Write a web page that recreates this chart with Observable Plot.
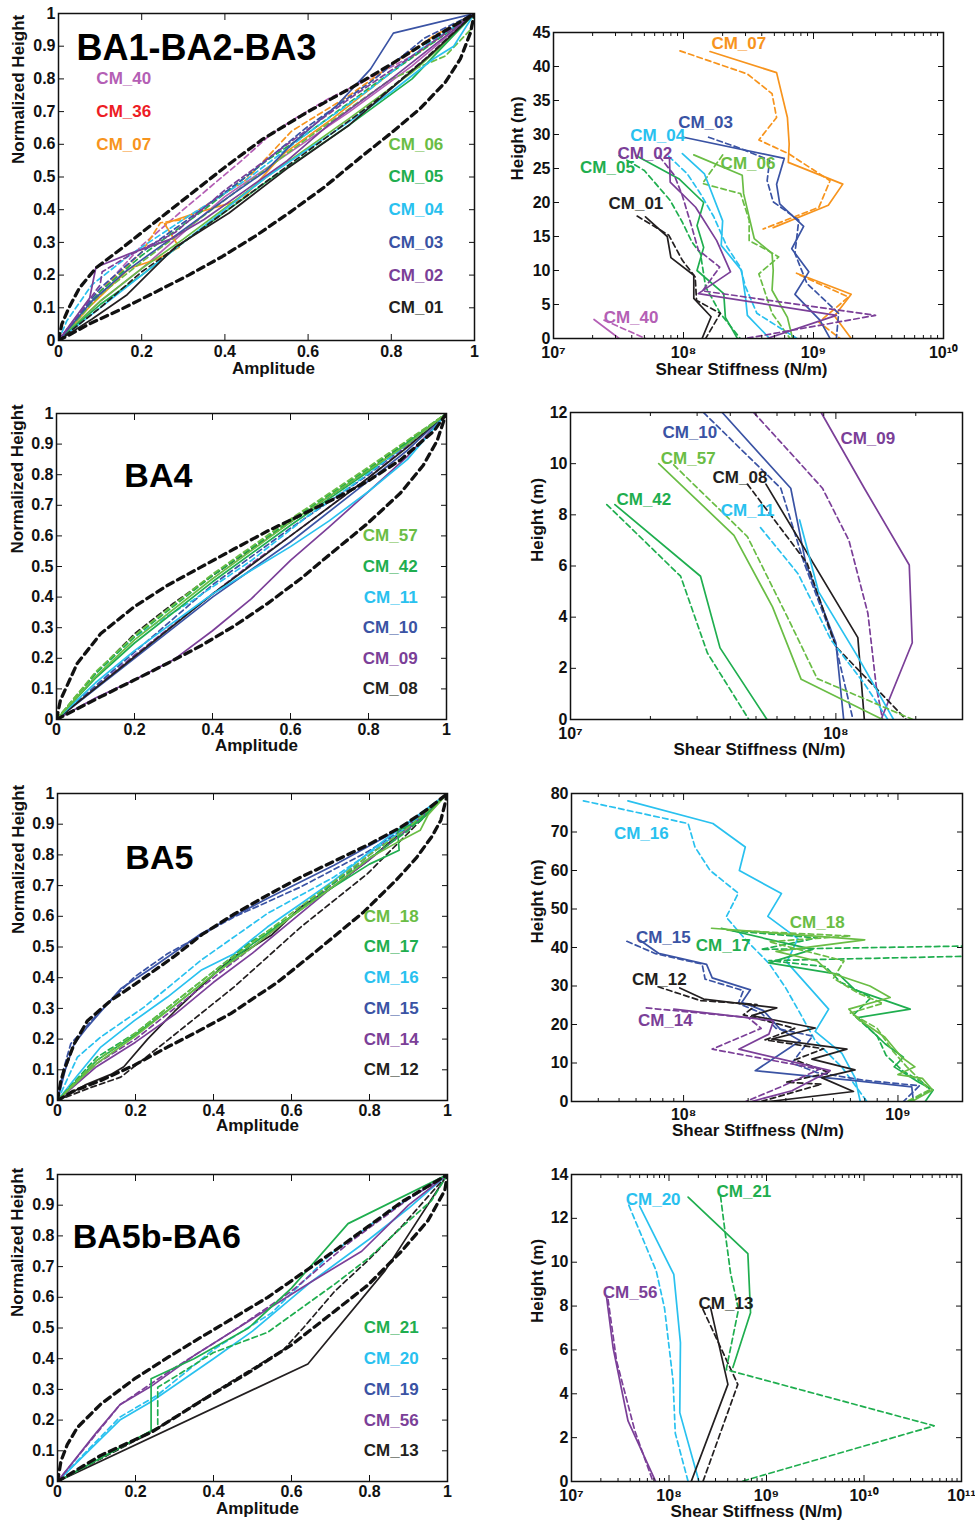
<!DOCTYPE html>
<html><head><meta charset="utf-8">
<script src="https://cdn.jsdelivr.net/npm/d3@7"></script>
<script src="https://cdn.jsdelivr.net/npm/@observablehq/plot@0.6"></script>
<style>
body{margin:0;background:#fff;}
#fig{position:relative;width:975px;height:1520px;background:#fff;}
#fig svg{position:absolute;}
</style></head><body><div id="fig"></div>
<script>
// ---------- colours ----------
const C = {purple:"#7b3f98", pink:"#b45fb5", red:"#ed1c24", orange:"#f7941d", lgreen:"#6abd45",
           green:"#1fae4f", cyan:"#29c1ef", blue:"#3a53a4", black:"#231f20"};

// ---------- tick values ----------
const ampTicks = [0,0.2,0.4,0.6,0.8,1];
const normTicks = [0,0.1,0.2,0.3,0.4,0.5,0.6,0.7,0.8,0.9,1];
const p1bHeightTicks = [0,5,10,15,20,25,30,35,40,45];
const p2bHeightTicks = [0,2,4,6,8,10,12];
const p3bHeightTicks = [0,10,20,30,40,50,60,70,80];
const p4bHeightTicks = [0,2,4,6,8,10,12,14];
const p1bDecades = [1e7,1e8,1e9,1e10];
const p2bDecades = [1e7,1e8];
const p3bDecades = [1e8,1e9];
const p4bDecades = [1e7,1e8,1e9,1e10,1e11];

// ================= PANEL 1 (BA1-BA2-BA3) =================
// [amplitude, normalized height]
const p1a_envUpper = [[0,0],[0.008,0.05],[0.025,0.1],[0.05,0.16],[0.09,0.222],[0.15,0.28],[0.2,0.33],[0.3,0.43],[0.4,0.53],[0.49,0.615],[0.6,0.7],[0.7,0.77],[0.8,0.845],[0.9,0.925],[1,1]];
const p1a_envLower = [[0,0],[0.03,0.02],[0.073,0.05],[0.153,0.097],[0.233,0.148],[0.313,0.2],[0.394,0.257],[0.474,0.32],[0.554,0.39],[0.64,0.47],[0.726,0.56],[0.8,0.635],[0.87,0.71],[0.93,0.79],[0.966,0.861],[0.99,0.94],[1,1]];
const p1a_CM01 = [[0,0],[0.08,0.065],[0.165,0.14],[0.22,0.21],[0.28,0.285],[0.41,0.39],[0.554,0.53],[0.7,0.66],[0.8,0.77],[0.9,0.88],[1,1]];
const p1a_CM01d = [[0,0],[0.1,0.1],[0.2,0.21],[0.3,0.3],[0.45,0.44],[0.6,0.58],[0.75,0.72],[0.88,0.86],[1,1]];
const p1a_CM02 = [[0,0],[0.075,0.13],[0.09,0.224],[0.17,0.265],[0.27,0.31],[0.35,0.37],[0.45,0.46],[0.55,0.55],[0.65,0.66],[0.8,0.8],[0.9,0.9],[1,1]];
const p1a_CM02d = [[0,0],[0.06,0.1],[0.1,0.17],[0.105,0.21],[0.17,0.26],[0.28,0.33],[0.4,0.46],[0.55,0.6],[0.7,0.74],[0.85,0.87],[1,1]];
const p1a_CM03 = [[0,0],[0.08,0.12],[0.16,0.21],[0.28,0.32],[0.41,0.44],[0.5,0.52],[0.56,0.6],[0.67,0.72],[0.75,0.83],[0.805,0.94],[1,1]];
const p1a_CM03d = [[0,0],[0.1,0.16],[0.2,0.27],[0.3,0.36],[0.45,0.5],[0.6,0.655],[0.75,0.79],[0.88,0.925],[1,1]];
const p1a_CM04 = [[0,0],[0.1,0.1],[0.2,0.2],[0.3,0.3],[0.5,0.5],[0.7,0.67],[0.8,0.76],[0.9,0.86],[0.95,0.9],[1,1]];
const p1a_CM04d = [[0,0],[0.02,0.06],[0.08,0.17],[0.17,0.26],[0.3,0.37],[0.45,0.49],[0.6,0.635],[0.75,0.77],[0.88,0.9],[1,1]];
const p1a_CM05 = [[0,0],[0.1,0.11],[0.2,0.2],[0.3,0.3],[0.5,0.485],[0.7,0.66],[0.85,0.8],[0.94,0.92],[1,1]];
const p1a_CM05d = [[0,0],[0.1,0.15],[0.2,0.26],[0.35,0.4],[0.5,0.55],[0.6,0.635],[0.75,0.775],[0.9,0.91],[1,1]];
const p1a_CM06 = [[0,0],[0.1,0.12],[0.2,0.22],[0.3,0.31],[0.5,0.5],[0.7,0.68],[0.85,0.82],[0.93,0.91],[1,1]];
const p1a_CM06d = [[0,0],[0.1,0.14],[0.2,0.24],[0.4,0.43],[0.6,0.62],[0.8,0.8],[0.93,0.87],[0.99,0.95],[1,1]];
const p1a_CM07 = [[0,0],[0.08,0.11],[0.17,0.22],[0.24,0.25],[0.29,0.285],[0.255,0.357],[0.33,0.39],[0.44,0.43],[0.54,0.57],[0.66,0.68],[0.82,0.84],[0.92,0.93],[1,1]];
const p1a_CM07d = [[0,0],[0.1,0.15],[0.2,0.27],[0.245,0.36],[0.3,0.37],[0.45,0.49],[0.56,0.64],[0.7,0.75],[0.82,0.86],[0.9,0.93],[1,1]];
const p1a_CM40 = [[0,0],[0.1,0.12],[0.2,0.22],[0.4,0.44],[0.55,0.57],[0.7,0.7],[0.85,0.84],[1,1]];
const p1a_CM40d = [[0,0],[0.1,0.15],[0.2,0.29],[0.3,0.4],[0.44,0.55],[0.51,0.63],[0.57,0.68],[0.65,0.74],[0.73,0.79],[0.85,0.87],[1,1]];

// [shear stiffness N/m, height m]
const p1b_CM07 = [[1.6e8,42.2],[5.2e8,39.1],[6.3e8,32.5],[6.5e8,28.6],[6.4e8,25.9],[1.68e9,22.7],[1.3e9,19.6],[4.9e8,16.3],[NaN,NaN],[7.4e8,9.6],[1.95e9,6.5],[1.45e9,3.3],[1.95e9,0]];
const p1b_CM07d = [[9.4e7,42.3],[3.1e8,38.9],[4.8e8,36],[5.2e8,32.5],[3.8e8,29.2],[6.4e8,27.2],[1.34e9,23.2],[1.1e9,19.3],[4.1e8,16.1],[NaN,NaN],[7.9e8,9.3],[1.86e9,6.1],[1.1e9,2.4],[1.6e9,0]];
const p1b_CM03 = [[1.0e8,29.6],[5.96e8,26.5],[5.2e8,22.7],[5.5e8,19.8],[8.4e8,16.5],[6.8e8,13.2],[9.2e8,9.8],[7.2e8,6.5],[1.12e9,2.7],[1.34e9,0]];
const p1b_CM03d = [[1.56e8,29.6],[2.7e8,28],[4.6e8,26.2],[4.4e8,23.2],[4.9e8,20.1],[7.7e8,17.4],[7.2e8,12.5],[8.9e8,8.1],[1.56e9,3.7],[1.5e9,0]];
const p1b_CM04 = [[9.8e7,27.2],[1.45e8,24.2],[2.0e8,17.3],[1.95e8,13.7],[2.8e8,10],[3.0e8,6],[3.1e8,3.4],[4.6e8,0]];
const p1b_CM04d = [[7.7e7,26.8],[1.07e8,24.2],[1.35e8,21.3],[1.71e8,17.9],[2.16e8,13.5],[2.73e8,10.5],[3.0e8,7.6],[3.67e8,3.7],[7.45e8,0]];
const p1b_CM05 = [[4.3e7,26.9],[9.2e7,23.5],[1.43e8,20],[1.27e8,16.6],[1.43e8,13.4],[1.27e8,10],[2.04e8,6.6],[2.1e8,3.1],[2.6e8,0]];
const p1b_CM05d = [[3.2e7,26.9],[5.0e7,24.7],[7.9e7,20.3],[9.8e7,17.1],[1.16e8,14.2],[1.35e8,12.5],[1.48e8,7.6],[1.92e8,3.7],[2.73e8,0]];
const p1b_CM06 = [[1.2e8,27],[2.83e8,24],[2.9e8,21.3],[3.5e8,14.7],[4.8e8,12.5],[4.9e8,10],[4.8e8,7.1],[6.3e8,3.1],[6.9e8,0]];
const p1b_CM06d = [[2.0e8,27],[1.4e8,22.8],[2.75e8,21.3],[3.2e8,17.4],[3.2e8,14.4],[4.4e8,13],[5.4e8,12],[3.8e8,9.5],[4.8e8,3.7],[6.6e8,0]];
const p1b_CM02 = [[7.8e7,26.5],[7.9e7,23],[1.24e8,19.3],[1.8e8,14.4],[2.3e8,9.8],[1.3e8,6.6],[1.5e9,3.4],[4.4e8,0]];
const p1b_CM02d = [[6.5e7,26.8],[8.5e7,24],[9.8e7,21],[1.15e8,16.6],[1.3e8,13],[1.9e8,10.5],[1.4e8,7],[3.0e9,3.4],[3.0e8,0]];
const p1b_CM01 = [[5.1e7,17.9],[7.5e7,15],[8.0e7,11.9],[1.2e8,9.3],[1.2e8,5.9],[1.63e8,3.2],[1.39e8,0]];
const p1b_CM01d = [[4.4e7,18],[7.7e7,15.2],[9.8e7,11.5],[1.23e8,9.05],[1.26e8,5.6],[1.92e8,3.7],[1.48e8,0]];
const p1b_CM40 = [[2.05e7,2.8],[3.2e7,0]];
const p1b_CM40d = [[2.45e7,2.7],[5.1e7,0]];

// ================= PANEL 2 (BA4) =================
const p2a_envUpper = [[0,0],[0.01,0.063],[0.053,0.183],[0.113,0.28],[0.198,0.367],[0.284,0.438],[0.369,0.497],[0.455,0.557],[0.54,0.615],[0.626,0.668],[0.711,0.72],[0.797,0.778],[0.882,0.848],[0.968,0.943],[1,1]];
const p2a_envLower = [[0,0],[0.113,0.074],[0.198,0.128],[0.284,0.183],[0.369,0.24],[0.455,0.305],[0.54,0.378],[0.626,0.46],[0.711,0.55],[0.797,0.64],[0.882,0.74],[0.94,0.83],[0.976,0.911],[0.993,0.976],[1,1]];
const p2a_CM08 = [[0,0],[0.2,0.205],[0.4,0.41],[0.6,0.6],[0.8,0.79],[0.9,0.89],[1,1]];
const p2a_CM08d = [[0,0],[0.1,0.15],[0.2,0.28],[0.3,0.38],[0.4,0.47],[0.6,0.645],[0.8,0.815],[1,1]];
const p2a_CM09 = [[0,0],[0.1,0.07],[0.2,0.13],[0.3,0.195],[0.4,0.29],[0.5,0.395],[0.6,0.52],[0.7,0.63],[0.8,0.745],[0.9,0.86],[1,1]];
const p2a_CM09d = [[0,0],[0.2,0.21],[0.4,0.41],[0.5,0.51],[0.6,0.6],[0.8,0.79],[1,1]];
const p2a_CM10 = [[0,0],[0.2,0.2],[0.4,0.4],[0.6,0.58],[0.8,0.78],[0.9,0.88],[1,1]];
const p2a_CM10d = [[0,0],[0.2,0.22],[0.4,0.44],[0.6,0.625],[0.8,0.8],[1,1]];
const p2a_CM11 = [[0,0],[0.1,0.12],[0.2,0.225],[0.4,0.41],[0.6,0.565],[0.7,0.65],[0.8,0.745],[0.9,0.85],[1,1]];
const p2a_CM11d = [[0,0],[0.1,0.15],[0.2,0.27],[0.35,0.39],[0.5,0.52],[0.65,0.67],[0.78,0.785],[0.9,0.9],[1,1]];
const p2a_CM42 = [[0,0],[0.1,0.135],[0.2,0.25],[0.4,0.45],[0.6,0.635],[0.8,0.81],[1,1]];
const p2a_CM42d = [[0,0],[0.1,0.15],[0.2,0.27],[0.4,0.47],[0.6,0.65],[0.8,0.82],[1,1]];
const p2a_CM57 = [[0,0],[0.1,0.14],[0.2,0.26],[0.4,0.46],[0.6,0.645],[0.8,0.815],[0.9,0.9],[1,1]];
const p2a_CM57d = [[0,0],[0.1,0.155],[0.2,0.275],[0.4,0.475],[0.6,0.655],[0.8,0.825],[1,1]];

const p2b_CM09 = [[8.8e7,12],[1.28e8,9.04],[1.89e8,6.04],[1.94e8,3.0],[1.48e8,0]];
const p2b_CM09d = [[4.9e7,12],[7.2e7,10.1],[8.9e7,9.04],[1.12e8,7.0],[1.32e8,4.15],[1.42e8,1.28],[1.5e8,0]];
const p2b_CM10 = [[3.73e7,12],[6.76e7,9.04],[7.7e7,6.1],[1.0e8,3.0],[1.07e8,0]];
const p2b_CM10d = [[3.17e7,12],[6.2e7,9.04],[7.6e7,6.1],[1.0e8,2.85],[1.16e8,0]];
const p2b_CM08 = [[5.45e7,9.2],[1.21e8,3.2],[1.28e8,0]];
const p2b_CM08d = [[4.64e7,9.2],[7.8e7,6.1],[1.0e8,2.85],[1.84e8,0]];
const p2b_CM11 = [[7.3e7,7.8],[8.6e7,5],[1.21e8,2.45],[1.65e8,0]];
const p2b_CM11d = [[5.2e7,7.5],[7.2e7,5.7],[9.6e7,3.1],[1.28e8,1.4],[1.57e8,0]];
const p2b_CM57 = [[2.15e7,10],[4.13e7,7.2],[5.77e7,4.4],[7.4e7,1.57],[1.5e8,0]];
const p2b_CM57d = [[2.45e7,9.95],[4.64e7,7.15],[6.57e7,4.0],[8.5e7,1.6],[1.95e8,0]];
const p2b_CM42 = [[1.47e7,8.4],[3.09e7,5.6],[3.66e7,2.8],[5.5e7,0]];
const p2b_CM42d = [[1.37e7,8.4],[2.6e7,5.6],[3.28e7,2.6],[4.7e7,0]];

// ================= PANEL 3 (BA5) =================
const p3a_envUpper = [[0,0],[0.008,0.06],[0.017,0.1],[0.043,0.185],[0.077,0.26],[0.137,0.326],[0.2,0.38],[0.3,0.47],[0.37,0.54],[0.45,0.605],[0.54,0.67],[0.62,0.725],[0.71,0.78],[0.8,0.835],[0.88,0.89],[0.95,0.95],[1,1]];
const p3a_envLower = [[0,0],[0.04,0.03],[0.111,0.065],[0.197,0.115],[0.282,0.174],[0.36,0.225],[0.444,0.283],[0.564,0.385],[0.667,0.49],[0.786,0.615],[0.87,0.72],[0.92,0.79],[0.96,0.86],[0.983,0.913],[1,1]];
const p3a_CM12 = [[0,0],[0.07,0.05],[0.137,0.085],[0.17,0.11],[0.231,0.2],[0.3,0.29],[0.4,0.41],[0.453,0.47],[0.5,0.5],[0.55,0.54],[0.624,0.63],[0.7,0.69],[0.795,0.78],[0.906,0.9],[1,1]];
const p3a_CM12d = [[0,0],[0.08,0.04],[0.162,0.076],[0.282,0.196],[0.453,0.37],[0.624,0.565],[0.795,0.739],[0.906,0.88],[1,1]];
const p3a_CM14 = [[0,0],[0.1,0.11],[0.2,0.19],[0.3,0.28],[0.4,0.385],[0.5,0.48],[0.6,0.585],[0.7,0.69],[0.8,0.785],[0.9,0.885],[1,1]];
const p3a_CM14d = [[0,0],[0.1,0.12],[0.2,0.2],[0.3,0.3],[0.4,0.4],[0.5,0.5],[0.6,0.6],[0.7,0.7],[0.8,0.8],[1,1]];
const p3a_CM15 = [[0,0],[0.02,0.1],[0.043,0.185],[0.077,0.24],[0.162,0.364],[0.239,0.429],[0.368,0.543],[0.538,0.658],[0.709,0.766],[0.88,0.886],[1,1]];
const p3a_CM15d = [[0,0],[0.015,0.1],[0.034,0.185],[0.111,0.293],[0.197,0.402],[0.282,0.478],[0.453,0.598],[0.624,0.696],[0.795,0.81],[0.923,0.913],[1,1]];
const p3a_CM16 = [[0,0],[0.05,0.08],[0.111,0.174],[0.197,0.26],[0.282,0.337],[0.368,0.424],[0.453,0.478],[0.538,0.565],[0.624,0.641],[0.709,0.717],[0.838,0.848],[1,1]];
const p3a_CM16d = [[0,0],[0.051,0.141],[0.111,0.207],[0.222,0.304],[0.368,0.457],[0.538,0.609],[0.709,0.728],[0.88,0.875],[1,1]];
const p3a_CM17 = [[0,0],[0.1,0.13],[0.2,0.215],[0.3,0.31],[0.4,0.41],[0.5,0.51],[0.6,0.6],[0.7,0.69],[0.8,0.77],[0.876,0.815],[0.872,0.88],[0.93,0.91],[1,1]];
const p3a_CM17d = [[0,0],[0.1,0.14],[0.2,0.22],[0.3,0.32],[0.4,0.42],[0.5,0.52],[0.6,0.6],[0.7,0.7],[0.8,0.79],[0.9,0.88],[1,1]];
const p3a_CM18 = [[0,0],[0.1,0.12],[0.2,0.21],[0.3,0.31],[0.4,0.41],[0.5,0.5],[0.6,0.6],[0.7,0.69],[0.8,0.79],[0.87,0.84],[0.93,0.88],[0.95,0.93],[1,1]];
const p3a_CM18d = [[0,0],[0.1,0.13],[0.2,0.22],[0.4,0.42],[0.6,0.61],[0.8,0.8],[0.9,0.89],[1,1]];

const p3b_CM16 = [[5.5e7,78.1],[1.37e8,72.2],[1.94e8,66.1],[1.82e8,60],[2.86e8,54],[2.47e8,48.1],[3.41e8,42.3],[3.03e8,36.2],[4.75e8,24],[4.11e8,18.2],[5.48e8,12.5],[6.3e8,6.2],[6.67e8,0]];
const p3b_CM16d = [[3.41e7,78.1],[1.05e8,72.2],[1.13e8,66.1],[1.33e8,60],[1.8e8,54.1],[1.58e8,47.9],[1.95e8,42],[2.5e8,35.9],[2.98e8,29.7],[3.44e8,23.6],[4.11e8,15.8],[5.48e8,8.9],[7.16e8,0]];
const p3b_CM15 = [[6.28e7,41.8],[7.64e7,38.5],[1.28e8,35.6],[1.36e8,32.1],[2.05e8,29],[1.87e8,25.8],[2.36e8,23.6],[2.82e8,18.8],[3.5e8,15.8],[2.16e8,8.0],[6.3e8,5.4],[1.16e9,3.8],[1.18e9,0]];
const p3b_CM15d = [[5.44e7,41.6],[7.4e7,38.4],[1.22e8,35.7],[1.26e8,31.8],[1.9e8,28.8],[1.8e8,25.5],[2.3e8,23],[2.7e8,19],[4.0e8,17],[3.2e8,10],[4.2e8,7.5],[7.0e8,5.5],[1.26e9,4.1],[1.06e9,0]];
const p3b_CM12 = [[9.6e7,29.5],[1.24e8,26.6],[2.72e8,24.3],[2.08e8,22.3],[4.11e8,19.1],[2.58e8,16.2],[5.78e8,13.6],[3.97e8,11],[6.3e8,8.2],[4.4e8,6.2],[6.2e8,2.6],[2.5e8,0]];
const p3b_CM12d = [[7.6e7,29.8],[1.2e8,26.2],[2.2e8,25.2],[1.9e8,22.5],[3.3e8,19],[2.4e8,16],[4.5e8,13.7],[3.3e8,10.8],[4.8e8,7.5],[3.0e8,5],[4.4e8,4.5],[2.3e8,0]];
const p3b_CM14 = [[9.0e7,24],[2.63e8,21],[2.5e8,17.5],[1.81e8,13.6],[4.83e8,8.0],[3.2e8,2.8],[2.08e8,0]];
const p3b_CM14d = [[6.7e7,24.3],[2.0e8,21.8],[2.3e8,19],[1.36e8,13.6],[4.3e8,8.4],[2.9e8,4],[1.95e8,0]];
const p3b_CM17 = [[1.5e8,45],[2.55e8,42],[4.0e8,39.5],[2.5e8,36],[5.3e8,33],[6.3e8,29],[1.14e9,24],[6.5e8,21.8],[8.7e8,15],[1.06e9,11.5],[9.6e8,9],[1.25e9,5],[1.46e9,3],[1.34e9,0]];
const p3b_CM17d = [[1.7e8,44.3],[4.2e8,42.5],[2.3e8,39.5],[3.5e9,40.6],[3.5e9,38.0],[2.5e8,36.6],[4.6e8,35],[5.4e8,31],[7.5e8,27],[6.2e8,22.5],[8.0e8,17],[8.8e8,12],[1.05e9,8],[1.3e9,5],[1.42e9,3],[1.12e9,0]];
const p3b_CM18 = [[1.35e8,45],[7.0e8,42],[2.7e8,39],[4.2e8,36.5],[4.8e8,33.5],[7.4e8,30],[9.2e8,27],[5.9e8,24],[6.5e8,21.5],[8.7e8,16.7],[1.04e9,11.5],[1.2e9,9],[1.0e9,7],[1.3e9,6],[1.45e9,3],[1.16e9,0]];
const p3b_CM18d = [[1.6e8,44.5],[6.0e8,43],[2.5e8,41.5],[5.6e8,36.5],[5.0e8,32],[6.6e8,28],[8.5e8,25.5],[6.0e8,23],[8.0e8,19],[9.5e8,13],[1.1e9,9],[1.3e9,5],[1.4e9,3],[1.1e9,0]];

// ================= PANEL 4 (BA5b-BA6) =================
const p4a_envUpper = [[0,0],[0.009,0.067],[0.025,0.12],[0.051,0.176],[0.111,0.252],[0.197,0.334],[0.283,0.404],[0.368,0.47],[0.454,0.535],[0.539,0.6],[0.625,0.676],[0.711,0.752],[0.796,0.83],[0.882,0.91],[1,1]];
const p4a_envLower = [[0,0],[0.111,0.085],[0.24,0.16],[0.368,0.262],[0.497,0.36],[0.6,0.445],[0.711,0.555],[0.796,0.64],[0.882,0.75],[0.95,0.85],[0.993,0.948],[1,1]];
const p4a_CM13 = [[0,0],[0.642,0.383],[0.84,0.687],[1,1]];
const p4a_CM13d = [[0,0],[0.24,0.16],[0.4,0.29],[0.58,0.43],[0.63,0.5],[0.711,0.62],[0.796,0.72],[0.882,0.83],[1,1]];
const p4a_CM20 = [[0,0],[0.16,0.2],[0.24,0.26],[0.4,0.4],[0.5,0.49],[0.65,0.65],[0.8,0.79],[0.9,0.89],[1,1]];
const p4a_CM20d = [[0,0],[0.16,0.21],[0.255,0.28],[0.4,0.43],[0.55,0.55],[0.7,0.74],[0.85,0.88],[1,1]];
const p4a_CM21 = [[0,0],[0.24,0.165],[0.24,0.335],[0.35,0.4],[0.49,0.5],[0.6,0.63],[0.745,0.84],[1,1]];
const p4a_CM21d = [[0,0],[0.257,0.176],[0.257,0.307],[0.3,0.34],[0.4,0.42],[0.539,0.486],[0.62,0.56],[0.711,0.643],[0.8,0.73],[0.882,0.828],[0.959,0.915],[1,1]];
const p4a_CM56 = [[0,0],[0.1,0.16],[0.16,0.25],[0.24,0.31],[0.35,0.41],[0.5,0.53],[0.65,0.65],[0.78,0.75],[0.9,0.9],[1,1]];
const p4a_CM56d = [[0,0],[0.16,0.25],[0.3,0.37],[0.45,0.49],[0.6,0.62],[0.75,0.78],[0.9,0.92],[1,1]];

const p4b_CM20 = [[5.0e7,12.56],[1.12e8,9.44],[1.31e8,6.33],[1.29e8,3.14],[2.03e8,0]];
const p4b_CM20d = [[3.87e7,12.6],[7.4e7,9.6],[9.0e7,7.9],[1.1e8,4.6],[1.16e8,2.2],[1.57e8,0]];
const p4b_CM21 = [[1.57e8,12.97],[6.44e8,10.39],[6.86e8,7.7],[4.52e8,5.2]];
const p4b_CM21d = [[3.38e8,13.0],[3.78e8,11.3],[4.28e8,9.5],[5.16e8,7.85],[3.86e8,5.1],[5.25e10,2.54],[5.5e8,0]];
const p4b_CM13 = [[2.67e8,7.93],[4.02e8,4.43],[1.69e8,0]];
const p4b_CM13d = [[2.23e8,7.85],[5.08e8,4.43],[2.23e8,0]];
const p4b_CM56 = [[2.28e7,8.46],[2.67e7,6.1],[3.8e7,2.76],[7.3e7,0]];
const p4b_CM56d = [[2.37e7,8.3],[2.9e7,5.5],[4.47e7,2.3],[6.85e7,0]];

// ---------- rendering helpers ----------
const FONT = '"Liberation Sans", Arial, Helvetica, sans-serif';
const ML = 56, MR = 12, MT = 12, MB = 46;
const fig = document.getElementById("fig");
const SUP = {"0":"⁰","1":"¹","2":"²","3":"³","4":"⁴","5":"⁵","6":"⁶","7":"⁷","8":"⁸","9":"⁹"};
const pow10 = d => "10" + String(Math.round(Math.log10(d))).split("").map(c => SUP[c]).join("");

function lineMark(data, color, kind) {
  const o = {x: d => d[0], y: d => d[1], stroke: color, strokeWidth: 1.7, strokeLinejoin: "round", clip: true};
  if (kind === "d") { o.strokeDasharray = "5.5,3.5"; }
  if (kind === "env") { o.strokeWidth = 3.3; o.strokeDasharray = "7,5"; o.stroke = "#111"; }
  return Plot.line(data, o);
}
function labelMark(t, x, y, color, anchor, size) {
  return Plot.text([t], {x: () => x, y: () => y, text: d => d, fill: color, textAnchor: anchor,
    fontSize: size, fontWeight: "bold", lineAnchor: "middle"});
}

function panel(cfg) {
  const isLog = cfg.xType === "log";
  const marks = [];
  cfg.series.forEach(s => marks.push(lineMark(s[0], s[1], s[2])));
  // axes: inward ticks on all four sides (box style)
  marks.push(Plot.axisX(cfg.xTicks, {anchor: "bottom", tickSize: -6, tickPadding: cfg.xPad,
    tickFormat: isLog ? pow10 : d => String(d), label: null, fontSize: 16, fontWeight: "bold"}));
  marks.push(Plot.axisX(cfg.xTicks, {anchor: "top", tickSize: -6, tickFormat: () => "", label: null}));
  if (isLog) {
    const minor = d3.scaleLog().domain(cfg.xDomain).ticks()
      .filter(v => Math.abs(Math.log10(v) - Math.round(Math.log10(v))) > 1e-6);
    marks.push(Plot.axisX(minor, {anchor: "bottom", tickSize: -3, tickFormat: () => "", label: null}));
    marks.push(Plot.axisX(minor, {anchor: "top", tickSize: -3, tickFormat: () => "", label: null}));
  }
  marks.push(Plot.axisY(cfg.yTicks, {anchor: "left", tickSize: -6, tickPadding: 9,
    tickFormat: d => String(d), label: null, fontSize: 16, fontWeight: "bold"}));
  marks.push(Plot.axisY(cfg.yTicks, {anchor: "right", tickSize: -6, tickFormat: () => "", label: null}));
  marks.push(Plot.frame({stroke: "#111", strokeWidth: 1.5}));
  // axis titles
  marks.push(Plot.text([cfg.xLabel], {frameAnchor: "bottom", text: d => d, dx: cfg.xl[0], dy: cfg.xl[1],
    lineAnchor: "middle", fontSize: 17, fontWeight: "bold", fill: "#111"}));
  marks.push(Plot.text([cfg.yLabel], {frameAnchor: "left", text: d => d, rotate: -90, dx: cfg.yl[0], dy: cfg.yl[1],
    lineAnchor: "middle", fontSize: 17, fontWeight: "bold", fill: "#111"}));
  // annotations
  if (cfg.title) marks.push(labelMark(cfg.title[0], cfg.title[1], cfg.title[2], "#000", "start", cfg.title[3]));
  cfg.labels.forEach(l => marks.push(labelMark(l[0], l[1], l[2], l[3], l[4], 17)));

  const svg = Plot.plot({
    width: cfg.w + ML + MR, height: cfg.h + MT + MB,
    marginLeft: ML, marginRight: MR, marginTop: MT, marginBottom: MB,
    x: {type: cfg.xType, domain: cfg.xDomain},
    y: {type: "linear", domain: cfg.yDomain},
    style: {fontFamily: FONT, fontWeight: "bold", fontSize: "16px", background: "none", overflow: "visible", color: "#111"},
    marks
  });
  svg.style.position = "absolute";
  svg.style.left = (cfg.left - ML) + "px";
  svg.style.top = (cfg.top - MT) + "px";
  fig.appendChild(svg);
}

const leftCol = (names, colors, x0, h0) => names.map((n, i) => [n, x0, h0 - 0.1 * i, colors[i], "end"]);

// ---------- Row 1 ----------
panel({left: 58, top: 13, w: 416, h: 327, xType: "linear", xDomain: [0, 1], yDomain: [0, 1], xPad: 11,
  xTicks: ampTicks, yTicks: normTicks, xLabel: "Amplitude", yLabel: "Normalized Height", xl: [7, 28], yl: [-40, -13],
  title: ["BA1-BA2-BA3", 0.043, 0.893, 36],
  series: [
    [p1a_CM40, C.pink, "s"], [p1a_CM40d, C.pink, "d"],
    [p1a_CM07, C.orange, "s"], [p1a_CM07d, C.orange, "d"],
    [p1a_CM06, C.lgreen, "s"], [p1a_CM06d, C.lgreen, "d"],
    [p1a_CM05, C.green, "s"], [p1a_CM05d, C.green, "d"],
    [p1a_CM04, C.cyan, "s"], [p1a_CM04d, C.cyan, "d"],
    [p1a_CM03, C.blue, "s"], [p1a_CM03d, C.blue, "d"],
    [p1a_CM02, C.purple, "s"], [p1a_CM02d, C.purple, "d"],
    [p1a_CM01, C.black, "s"], [p1a_CM01d, C.black, "d"],
    [p1a_envUpper, C.black, "env"], [p1a_envLower, C.black, "env"]
  ],
  labels: [["CM_40", 0.091, 0.8, C.pink, "start"], ["CM_36", 0.091, 0.7, C.red, "start"], ["CM_07", 0.091, 0.6, C.orange, "start"],
    ...leftCol(["CM_06","CM_05","CM_04","CM_03","CM_02","CM_01"], [C.lgreen, C.green, C.cyan, C.blue, C.purple, C.black], 0.925, 0.6)]
});
panel({left: 553, top: 32, w: 390, h: 306, xType: "log", xDomain: [1e7, 1e10], yDomain: [0, 45], xPad: 14,
  xTicks: p1bDecades, yTicks: p1bHeightTicks, xLabel: "Shear Stiffness (N/m)", yLabel: "Height (m)", xl: [-7, 31], yl: [-36, -5],
  series: [
    [p1b_CM40, C.pink, "s"], [p1b_CM40d, C.pink, "d"],
    [p1b_CM07, C.orange, "s"], [p1b_CM07d, C.orange, "d"],
    [p1b_CM06, C.lgreen, "s"], [p1b_CM06d, C.lgreen, "d"],
    [p1b_CM05, C.green, "s"], [p1b_CM05d, C.green, "d"],
    [p1b_CM04, C.cyan, "s"], [p1b_CM04d, C.cyan, "d"],
    [p1b_CM03, C.blue, "s"], [p1b_CM03d, C.blue, "d"],
    [p1b_CM02, C.purple, "s"], [p1b_CM02d, C.purple, "d"],
    [p1b_CM01, C.black, "s"], [p1b_CM01d, C.black, "d"]
  ],
  labels: [["CM_07", 1.64e8, 43.4, C.orange, "start"], ["CM_03", 9.1e7, 31.7, C.blue, "start"], ["CM_04", 3.9e7, 29.9, C.cyan, "start"],
    ["CM_02", 3.1e7, 27.2, C.purple, "start"], ["CM_06", 1.93e8, 25.7, C.lgreen, "start"], ["CM_05", 1.6e7, 25.1, C.green, "start"],
    ["CM_01", 2.65e7, 19.85, C.black, "start"], ["CM_40", 2.43e7, 3.1, C.pink, "start"]]
});

// ---------- Row 2 ----------
panel({left: 56, top: 413, w: 390, h: 306, xType: "linear", xDomain: [0, 1], yDomain: [0, 1], xPad: 10,
  xTicks: ampTicks, yTicks: normTicks, xLabel: "Amplitude", yLabel: "Normalized Height", xl: [5, 26], yl: [-39, -13],
  title: ["BA4", 0.174, 0.794, 34],
  series: [
    [p2a_CM09, C.purple, "s"], [p2a_CM09d, C.purple, "d"],
    [p2a_CM10, C.blue, "s"], [p2a_CM10d, C.blue, "d"],
    [p2a_CM08, C.black, "s"], [p2a_CM08d, C.black, "d"],
    [p2a_CM11, C.cyan, "s"], [p2a_CM11d, C.cyan, "d"],
    [p2a_CM42, C.green, "s"], [p2a_CM42d, C.green, "d"],
    [p2a_CM57, C.lgreen, "s"], [p2a_CM57d, C.lgreen, "d"],
    [p2a_envUpper, C.black, "env"], [p2a_envLower, C.black, "env"]
  ],
  labels: leftCol(["CM_57","CM_42","CM_11","CM_10","CM_09","CM_08"], [C.lgreen, C.green, C.cyan, C.blue, C.purple, C.black], 0.926, 0.6)
});
panel({left: 570, top: 412, w: 392, h: 307, xType: "log", xDomain: [1e7, 3e8], yDomain: [0, 12], xPad: 14,
  xTicks: p2bDecades, yTicks: p2bHeightTicks, xLabel: "Shear Stiffness (N/m)", yLabel: "Height (m)", xl: [-7, 30], yl: [-33, -4],
  series: [
    [p2b_CM09, C.purple, "s"], [p2b_CM09d, C.purple, "d"],
    [p2b_CM10, C.blue, "s"], [p2b_CM10d, C.blue, "d"],
    [p2b_CM08, C.black, "s"], [p2b_CM08d, C.black, "d"],
    [p2b_CM11, C.cyan, "s"], [p2b_CM11d, C.cyan, "d"],
    [p2b_CM57, C.lgreen, "s"], [p2b_CM57d, C.lgreen, "d"],
    [p2b_CM42, C.green, "s"], [p2b_CM42d, C.green, "d"]
  ],
  labels: [["CM_10", 2.22e7, 11.2, C.blue, "start"], ["CM_09", 1.04e8, 11.0, C.purple, "start"], ["CM_57", 2.19e7, 10.2, C.lgreen, "start"],
    ["CM_08", 3.43e7, 9.45, C.black, "start"], ["CM_42", 1.49e7, 8.6, C.green, "start"], ["CM_11", 3.68e7, 8.16, C.cyan, "start"]]
});

// ---------- Row 3 ----------
panel({left: 57, top: 793, w: 390, h: 307, xType: "linear", xDomain: [0, 1], yDomain: [0, 1], xPad: 10,
  xTicks: ampTicks, yTicks: normTicks, xLabel: "Amplitude", yLabel: "Normalized Height", xl: [5, 25], yl: [-39, -13],
  title: ["BA5", 0.174, 0.79, 34],
  series: [
    [p3a_CM12, C.black, "s"], [p3a_CM12d, C.black, "d"],
    [p3a_CM14, C.purple, "s"], [p3a_CM14d, C.purple, "d"],
    [p3a_CM15, C.blue, "s"], [p3a_CM15d, C.blue, "d"],
    [p3a_CM16, C.cyan, "s"], [p3a_CM16d, C.cyan, "d"],
    [p3a_CM17, C.green, "s"], [p3a_CM17d, C.green, "d"],
    [p3a_CM18, C.lgreen, "s"], [p3a_CM18d, C.lgreen, "d"],
    [p3a_envUpper, C.black, "env"], [p3a_envLower, C.black, "env"]
  ],
  labels: leftCol(["CM_18","CM_17","CM_16","CM_15","CM_14","CM_12"], [C.lgreen, C.green, C.cyan, C.blue, C.purple, C.black], 0.926, 0.6)
});
panel({left: 571, top: 793, w: 391, h: 308, xType: "log", xDomain: [3e7, 2e9], yDomain: [0, 80], xPad: 13,
  xTicks: p3bDecades, yTicks: p3bHeightTicks, xLabel: "Shear Stiffness (N/m)", yLabel: "Height (m)", xl: [-9, 29], yl: [-34, -4],
  series: [
    [p3b_CM16, C.cyan, "s"], [p3b_CM16d, C.cyan, "d"],
    [p3b_CM15, C.blue, "s"], [p3b_CM15d, C.blue, "d"],
    [p3b_CM12, C.black, "s"], [p3b_CM12d, C.black, "d"],
    [p3b_CM14, C.purple, "s"], [p3b_CM14d, C.purple, "d"],
    [p3b_CM17, C.green, "s"], [p3b_CM17d, C.green, "d"],
    [p3b_CM18, C.lgreen, "s"], [p3b_CM18d, C.lgreen, "d"]
  ],
  labels: [["CM_16", 4.73e7, 69.6, C.cyan, "start"], ["CM_18", 3.13e8, 46.5, C.lgreen, "start"], ["CM_15", 5.99e7, 42.6, C.blue, "start"],
    ["CM_17", 1.14e8, 40.5, C.green, "start"], ["CM_12", 5.74e7, 31.6, C.black, "start"], ["CM_14", 6.12e7, 21.0, C.purple, "start"]]
});

// ---------- Row 4 ----------
panel({left: 57, top: 1174, w: 390, h: 307, xType: "linear", xDomain: [0, 1], yDomain: [0, 1], xPad: 10,
  xTicks: ampTicks, yTicks: normTicks, xLabel: "Amplitude", yLabel: "Normalized Height", xl: [5, 27], yl: [-40, -11],
  title: ["BA5b-BA6", 0.039, 0.795, 34],
  series: [
    [p4a_CM13, C.black, "s"], [p4a_CM13d, C.black, "d"],
    [p4a_CM20, C.cyan, "s"], [p4a_CM20d, C.cyan, "d"],
    [p4a_CM56, C.purple, "s"], [p4a_CM56d, C.purple, "d"],
    [p4a_CM21, C.green, "s"], [p4a_CM21d, C.green, "d"],
    [p4a_envUpper, C.black, "env"], [p4a_envLower, C.black, "env"]
  ],
  labels: leftCol(["CM_21","CM_20","CM_19","CM_56","CM_13"], [C.green, C.cyan, C.blue, C.purple, C.black], 0.926, 0.5)
});
panel({left: 571, top: 1174, w: 390, h: 307, xType: "log", xDomain: [1e7, 1e11], yDomain: [0, 14], xPad: 14,
  xTicks: p4bDecades, yTicks: p4bHeightTicks, xLabel: "Shear Stiffness (N/m)", yLabel: "Height (m)", xl: [-10, 30], yl: [-34, -5],
  series: [
    [p4b_CM56, C.purple, "s"], [p4b_CM56d, C.purple, "d"],
    [p4b_CM20, C.cyan, "s"], [p4b_CM20d, C.cyan, "d"],
    [p4b_CM13, C.black, "s"], [p4b_CM13d, C.black, "d"],
    [p4b_CM21, C.green, "s"], [p4b_CM21d, C.green, "d"]
  ],
  labels: [["CM_20", 3.6e7, 12.87, C.cyan, "start"], ["CM_21", 3.07e8, 13.2, C.green, "start"],
    ["CM_56", 2.09e7, 8.6, C.purple, "start"], ["CM_13", 2.01e8, 8.13, C.black, "start"]]
});
</script></body></html>
